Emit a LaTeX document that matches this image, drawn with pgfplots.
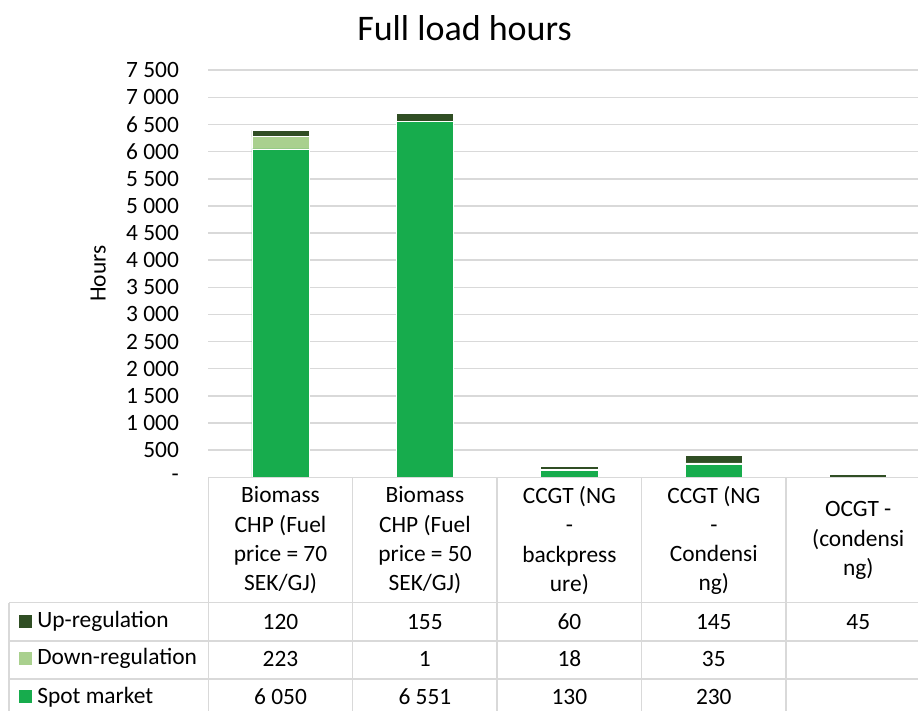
\documentclass[border=0pt]{standalone}
\usepackage{pgfplots}
\pgfplotsset{compat=1.18}
\usepackage{fontspec}
\setmainfont{Carlito}
\definecolor{upc}{HTML}{304E24}
\definecolor{downc}{HTML}{A9D08E}
\definecolor{spotc}{HTML}{17AC4D}
\definecolor{gridc}{HTML}{D9D9D9}
\newcommand{\tf}{\fontsize{11.7}{14.65}\selectfont}
\begin{document}
\begin{tikzpicture}
\useasboundingbox (0pt,0pt) rectangle (459pt,-355.5pt);
\begin{axis}[
  at={(104.15pt,-238.65pt)}, anchor=south west,
  scale only axis, width=361.1pt, height=203.55pt,
  xmin=-0.5, xmax=4.5, ymin=0, ymax=7500,
  ybar stacked, bar width=0.395,
  axis line style={draw=none}, tick style={draw=none},
  major tick length=0pt,
  ymajorgrids, grid style={gridc, line width=0.75pt},
  ytick={0,500,...,7500},
  yticklabels={-,500,1~000,1~500,2~000,2~500,3~000,3~500,4~000,4~500,5~000,5~500,6~000,6~500,7~000,7~500},
  yticklabel style={font=\tf, anchor=east, inner sep=0pt, xshift=-14.5pt},
  xtick={0,1,2,3,4},
  xticklabels={{Biomass\\CHP (Fuel\\price = 70\\SEK/GJ)},{Biomass\\CHP (Fuel\\price = 50\\SEK/GJ)},{CCGT (NG\\-\\backpress\\ure)},{CCGT (NG\\-\\Condensi\\ng)},{OCGT -\\(condensi\\ng)}},
  xticklabel style={font=\tf, align=center, anchor=center, inner sep=0pt, yshift=-31.6pt},
  clip=false,
]
\addplot[fill=spotc, draw=white, line width=0.4pt] coordinates {(0,6050) (1,6551) (2,130) (3,230) (4,0)};
\addplot[fill=downc, draw=white, line width=0.4pt] coordinates {(0,223) (1,1) (2,18) (3,35) (4,0)};
\addplot[fill=upc, draw=white, line width=0.4pt] coordinates {(0,120) (1,155) (2,60) (3,145) (4,45)};
\end{axis}
% title and y label
\node[font=\fontsize{18}{21}\selectfont] at (232.25pt,-14pt) {Full load hours};
\node[font=\tf, rotate=90] at (49.15pt,-136.85pt) {Hours};
% data table grid
\begin{scope}[gridc, line width=0.75pt]
\foreach \x in {104.15,176.35,248.55,320.8,393.0,465.25}
  \draw (\x pt,-238.65pt) -- (\x pt,-360pt);
\draw (4.5pt,-301.35pt) -- (4.5pt,-360pt);
\foreach \y in {-301.35,-320.5,-339.5}
  \draw (4.5pt,\y pt) -- (466pt,\y pt);
\draw (104.15pt,-238.65pt) -- (466pt,-238.65pt);
\end{scope}
% legend column
\node[font=\tf, anchor=base west, inner sep=0pt] at (9.15pt,-313.85pt) {\textcolor{upc}{\rule{6.5pt}{6.5pt}}\hspace{2.8pt}Up-regulation};
\node[font=\tf, anchor=base west, inner sep=0pt] at (9.15pt,-332.5pt) {\textcolor{downc}{\rule{6.5pt}{6.5pt}}\hspace{2.8pt}Down-regulation};
\node[font=\tf, anchor=base west, inner sep=0pt] at (9.15pt,-351.65pt) {\textcolor{spotc}{\rule{6.5pt}{6.5pt}}\hspace{2.8pt}Spot market};
% table values
\foreach \x/\v in {140.25/120,212.45/155,284.7/60,356.9/145,429.15/45}
  \node[font=\tf] at (\x pt,-310.85pt) {\v};
\foreach \x/\v in {140.25/223,212.45/1,284.7/18,356.9/35}
  \node[font=\tf] at (\x pt,-329.5pt) {\v};
\foreach \x/\v in {140.25/6~050,212.45/6~551,284.7/130,356.9/230}
  \node[font=\tf] at (\x pt,-348.35pt) {\v};
\end{tikzpicture}
\end{document}
